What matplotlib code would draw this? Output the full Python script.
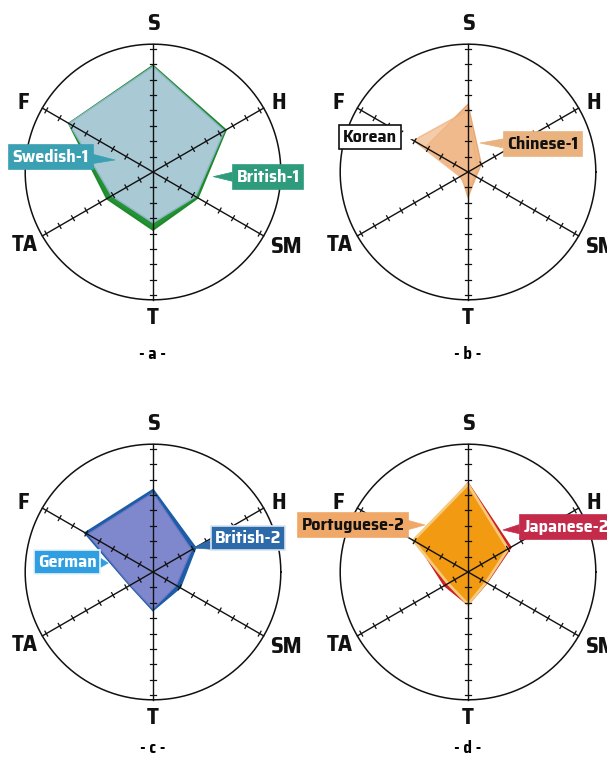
import numpy as np
import matplotlib.pyplot as plt

# narrow bold face, with a plain fallback
FONT = dict(family=['Saira SemiCondensed', 'Saira Condensed', 'DejaVu Sans'],
            weight='bold')

# axis names, clockwise from the top
axes_names = ['S', 'H', 'SM', 'T', 'TA', 'F']
angles = np.radians([90, 30, -30, -90, -150, 150])

# scores per panel
swedish_1 = [6.85, 5.35, 3.2, 3.3, 3.1, 6.3]
british_1 = [6.9, 5.45, 3.35, 3.75, 3.45, 6.3]
korean = [4.0, 0.7, 0.5, 1.2, 0.6, 4.1]
chinese_1 = [4.4, 1.0, 0.6, 1.65, 0.5, 3.2]
german = [5.15, 2.9, 1.75, 2.4, 1.7, 4.9]
british_2 = [5.3, 3.15, 2.0, 2.45, 1.7, 5.05]
portuguese_2 = [5.7, 3.0, 1.35, 2.1, 1.5, 4.1]
japanese_2 = [5.75, 3.2, 1.4, 2.1, 1.75, 3.8]

tick_values = np.arange(1, 9)
R = 8.3          # outer circle
S = 15.4         # pixels per unit

W, H = 607, 763
fig = plt.figure(figsize=(W / 100, H / 100), dpi=100)


def xy(vals):
    vals = np.asarray(vals)
    return vals * np.cos(angles), vals * np.sin(angles)


def make_panel(left, bottom, cx, cy, w, h):
    # cx, cy: centre of the dial in pixels inside the panel (from top-left)
    ax = fig.add_axes([left / W, bottom / H, w / W, h / H])
    ax.set_xlim(-cx / S, (w - cx) / S)
    ax.set_ylim(-(h - cy) / S, cy / S)
    ax.axis('off')
    t = np.linspace(0, 2 * np.pi, 400)
    ax.plot(R * np.cos(t), R * np.sin(t), color='#111111', lw=1.1, zorder=1)
    for a in angles:
        c, s = np.cos(a), np.sin(a)
        ax.plot([0, R * c], [0, R * s], color='#111111', lw=1.0, zorder=4)
        for v in tick_values:
            px, py = -s * 0.18, c * 0.18
            ax.plot([v * c - px, v * c + px], [v * s - py, v * s + py],
                    color='#111111', lw=0.9, zorder=4)
    off = {'S': (0, 9.6), 'H': (8.2, 4.5), 'SM': (8.6, -4.85),
           'T': (0, -9.45), 'TA': (-8.3, -4.75), 'F': (-8.4, 4.5)}
    for name in axes_names:
        ax.text(*off[name], name, ha='center', va='center', fontsize=17,
                color='#111111', **FONT)
    return ax


def poly(ax, vals, fc, ec, lw=1.0, alpha=1.0, z=2):
    x, y = xy(vals)
    ax.fill(x, y, facecolor=fc, edgecolor=ec, lw=lw, alpha=alpha, zorder=z,
            joinstyle='miter')


def tag(ax, text, box_xy, tip_xy, fc, tc='white', ec=None, ha='center'):
    ax.annotate(text, xy=tip_xy, xytext=box_xy, ha=ha, va='center',
                fontsize=13, color=tc, zorder=6, annotation_clip=False,
                bbox=dict(boxstyle='square,pad=0.2', fc=fc,
                          ec=ec if ec else fc, lw=1.2),
                arrowprops=dict(arrowstyle='wedge,tail_width=0.5',
                                fc=fc, ec=fc, lw=0.5,
                                shrinkA=0, shrinkB=0),
                **FONT)


# a
ax = make_panel(0, 381.5, 153, 172, 303.5, 381.5)
poly(ax, british_1, '#249233', '#1e8a2c', lw=1.5)
poly(ax, swedish_1, '#a9c9d5', '#8db6c6', lw=1.0, z=3)
tag(ax, 'Swedish-1', (-6.62, 0.97), (-2.47, 0.78), '#3aa0b2')
tag(ax, 'British-1', (7.47, -0.32), (3.92, -0.3), '#2e9b7c')
ax.text(0, -11.8, '- a -', ha='center', va='center', fontsize=12, **FONT)

# b
ax = make_panel(303.5, 381.5, 164.5, 172, 303.5, 381.5)
poly(ax, chinese_1, '#e9a366', '#e39a5a', lw=1.0, alpha=0.75)
poly(ax, korean, '#f2bb8c', '#eeb07c', lw=1.0, alpha=0.75, z=3)
tag(ax, 'Korean', (-6.36, 2.27), (-3.25, 2.27), 'white', tc='#111111',
    ec='#111111')
tag(ax, 'Chinese-1', (4.87, 1.82), (0.78, 1.88), '#e9b27e', tc='#111111')
ax.text(0, -11.8, '- b -', ha='center', va='center', fontsize=12, **FONT)

# c
ax = make_panel(0, 0, 153, 190.5, 303.5, 381.5)
poly(ax, british_2, '#1d5ca6', '#1d5ca6', lw=2.0)
poly(ax, german, '#7f87cd', '#6b78c2', lw=0.8, z=3)
tag(ax, 'British-2', (6.17, 2.21), (2.6, 1.56), '#2d6aa9', ec='#d8e4f0')
tag(ax, 'German', (-5.58, 0.65), (-2.92, 0.58), '#2f9fe2', ec='#e6f3fc')
ax.text(0, -11.4, '- c -', ha='center', va='center', fontsize=12, **FONT)

# d
ax = make_panel(303.5, 0, 164.5, 190.5, 303.5, 381.5)
poly(ax, japanese_2, '#d3261f', '#cc1f1f', lw=1.5)
poly(ax, portuguese_2, '#f29a12', '#f6ca7c', lw=2.0, z=3)
tag(ax, 'Portuguese-2', (-7.47, 3.05), (-2.8, 3.05), '#f0a868',
    tc='#111111')
tag(ax, 'Japanese-2', (3.6, 2.92), (2.27, 2.73), '#c42b4b', ha='left')
ax.text(0, -11.4, '- d -', ha='center', va='center', fontsize=12, **FONT)

fig.savefig('out.png', dpi=100, facecolor='white')
